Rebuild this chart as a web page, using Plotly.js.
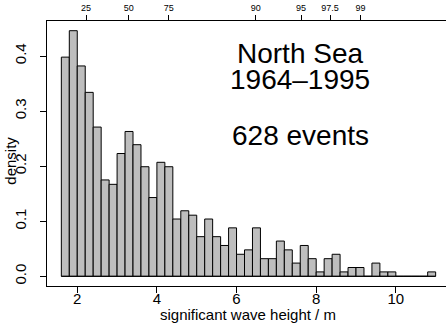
<!DOCTYPE html>
<html>
<head>
<meta charset="utf-8">
<script src="https://cdn.plot.ly/plotly-3.0.1.min.js"></script>
<style>html,body{margin:0;padding:0;background:#fff;}#chart{width:446px;height:323px;}</style>
</head>
<body>
<div id="chart"></div>
<script>
// Histogram of significant wave height (North Sea, 1964-1995, 628 events)
var binWidth = 0.2;
var binMids = [1.7,1.9,2.1,2.3,2.5,2.7,2.9,3.1,3.3,3.5,3.7,3.9,4.1,4.3,4.5,4.7,4.9,
               5.1,5.3,5.5,5.7,5.9,6.1,6.3,6.5,6.7,6.9,7.1,7.3,7.5,7.7,7.9,
               8.1,8.3,8.5,8.7,8.9,9.1,9.3,9.5,9.7,9.9,10.1,10.3,10.5,10.7,10.9];
var density = [0.398,0.446,0.382,0.334,0.271,0.175,0.167,0.223,0.263,0.239,0.199,0.143,0.207,0.199,0.104,0.119,0.111,
               0.072,0.104,0.072,0.056,0.088,0.040,0.048,0.088,0.032,0.032,0.064,0.048,0.024,0.056,0.032,
               0.008,0.032,0.040,0.008,0.016,0.016,0.000,0.024,0.008,0.008,0.000,0.000,0.000,0.000,0.008];
var breaksRange = [1.6, 11.0];
var xTicks = [2,4,6,8,10];
var yTicks = [0,0.1,0.2,0.3,0.4];
var yTickText = ['0.0','0.1','0.2','0.3','0.4'];
var pctLabels = ['25','50','75','90','95','97.5','99'];
var pctValues = [2.22,3.29,4.30,6.48,7.62,8.35,9.11];

var FONT = 'Liberation Sans, Arial, Helvetica, sans-serif';
var xRange = [1.24, 11.26];

var traces = [
  {
    type: 'bar', x: binMids, y: density, width: binWidth,
    marker: {color: '#BEBEBE', line: {color: '#000000', width: 1}},
    hoverinfo: 'skip', showlegend: false
  },
  {
    type: 'scatter', mode: 'lines', x: breaksRange, y: [0, 0],
    xaxis: 'x2', line: {color: '#000000', width: 1},
    hoverinfo: 'skip', showlegend: false
  }
];

var layout = {
  width: 446, height: 323,
  margin: {l: 47, r: 0, t: 21, b: 37, pad: 0},
  paper_bgcolor: '#ffffff', plot_bgcolor: '#ffffff',
  font: {family: FONT, color: '#000000'},
  bargap: 0, showlegend: false,
  xaxis: {
    range: xRange, tickmode: 'array', tickvals: xTicks,
    ticks: 'outside', ticklen: 6, tickwidth: 1, tickcolor: '#000',
    ticklabelstandoff: -7,
    showline: true, mirror: true, linecolor: '#000', linewidth: 1,
    showgrid: false, zeroline: false,
    tickfont: {family: FONT, size: 15, color: '#000'}
  },
  xaxis2: {
    overlaying: 'x', side: 'top', range: xRange,
    tickmode: 'array', tickvals: pctValues, ticktext: pctLabels,
    ticks: 'outside', ticklen: 5, tickwidth: 1, tickcolor: '#000',
    showline: false, showgrid: false, zeroline: false,
    tickfont: {family: FONT, size: 9, color: '#000'}
  },
  yaxis: {
    range: [-0.0176, 0.4636], tickmode: 'array', tickvals: yTicks, ticktext: yTickText,
    tickangle: -90, ticks: 'outside', ticklen: 6, tickwidth: 1, tickcolor: '#000',
    ticklabelstandoff: 8,
    showline: true, mirror: false, linecolor: '#000', linewidth: 1,
    showgrid: false, zeroline: false,
    tickfont: {family: FONT, size: 15, color: '#000'}
  },
  annotations: [
    {text: 'significant wave height / m', xref: 'paper', yref: 'paper', x: 0.504, y: 0,
     xanchor: 'center', yanchor: 'middle', yshift: -28, showarrow: false,
     font: {family: FONT, size: 15, color: '#000'}},
    {text: 'density', xref: 'paper', yref: 'y', x: 0, y: 0.21, xshift: -36,
     xanchor: 'center', yanchor: 'middle', textangle: -90, showarrow: false,
     font: {family: FONT, size: 15, color: '#000'}},
    {text: 'North Sea', xref: 'x', yref: 'y', x: 7.6, y: 0.4045,
     xanchor: 'center', yanchor: 'middle', showarrow: false,
     font: {family: FONT, size: 28, color: '#000'}},
    {text: '1964\u20131995', xref: 'x', yref: 'y', x: 7.6, y: 0.358,
     xanchor: 'center', yanchor: 'middle', showarrow: false,
     font: {family: FONT, size: 28, color: '#000'}},
    {text: '628 events', xref: 'x', yref: 'y', x: 7.6, y: 0.256,
     xanchor: 'center', yanchor: 'middle', showarrow: false,
     font: {family: FONT, size: 28, color: '#000'}}
  ]
};

Plotly.newPlot('chart', traces, layout, {staticPlot: true, displayModeBar: false});
</script>
</body>
</html>
